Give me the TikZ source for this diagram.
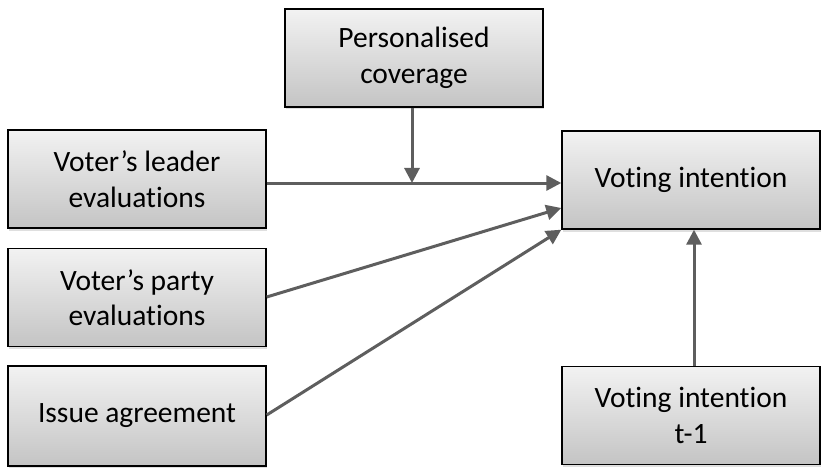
\documentclass[tikz,border=0pt]{standalone}
\usepackage{fontspec}
\setmainfont[Ligatures=NoCommon]{Carlito}
\usetikzlibrary{shadows,arrows.meta}
\definecolor{linegray}{HTML}{5E5E5E}
\definecolor{boxtop}{HTML}{F2F2F2}
\definecolor{boxbot}{HTML}{C4C4C4}
\tikzset{
  box/.style={draw=black, line width=1.4pt, top color=boxtop, bottom color=boxbot,
    minimum width=258pt, minimum height=98pt, align=center, inner sep=0pt,
    font=\fontsize{29.5}{35.5}\selectfont,
    drop shadow={shadow xshift=1pt, shadow yshift=-2.5pt, opacity=0.25}},
  conn/.style={draw=linegray, line width=3pt, -{Triangle[length=15pt,width=15pt]}},
}
\begin{document}
\begin{tikzpicture}[x=1pt,y=-1pt]
\useasboundingbox (0,0) rectangle (822,468);
\node[box] (pc) at (414,58) {Personalised\\coverage};
\node[box] (le) at (137,179) {Voter’s leader\\evaluations};
\node[box] (pe) at (137,297.5) {Voter’s party\\evaluations};
\node[box, minimum height=100pt] (ia) at (137,416) {Issue agreement};
\node[box] (vi) at (691,180) {Voting intention};
\node[box] (vt) at (691,415.5) {Voting intention\\t-1};
\coordinate (mid) at (412,183);
\coordinate (leS) at (le.east |- mid);
\coordinate (viW) at (vi.west |- mid);
\draw[conn] (leS) -- (viW);
\draw[conn] (pc.south -| mid) -- (mid);
\coordinate (pS) at (266,297);
\coordinate (pT) at (564,208);
\coordinate (iS) at (266,415);
\draw[conn] (pe.east |- pS) -- (vi.west |- pT);
\draw[conn] (ia.east |- iS) -- (vi.south west);
\coordinate (up) at (694,0);
\draw[conn] (vt.north -| up) -- (vi.south -| up);
\end{tikzpicture}
\end{document}
